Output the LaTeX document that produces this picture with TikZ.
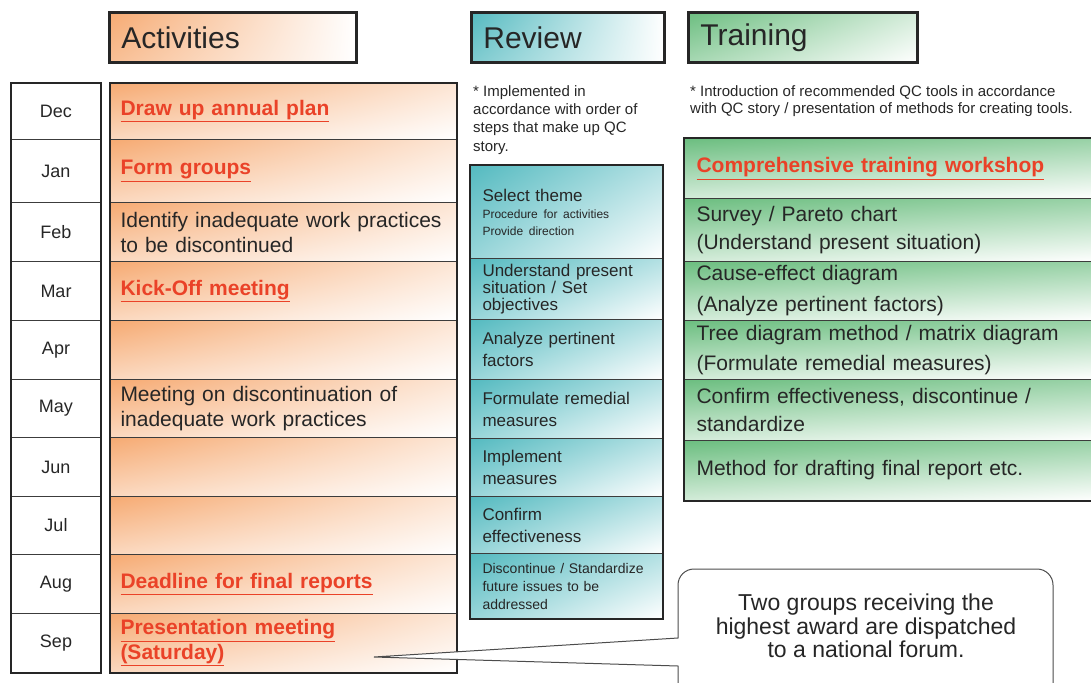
\documentclass[tikz,border=0pt]{standalone}
\usepackage{fontspec}
\setmainfont{Liberation Sans}
\usetikzlibrary{shadings}
\definecolor{actorange}{RGB}{246,170,114}
\definecolor{revteal}{RGB}{84,186,192}
\definecolor{trngreen}{RGB}{108,190,128}
\definecolor{hotred}{RGB}{234,66,40}
\definecolor{ink}{RGB}{38,38,38}
\definecolor{rulegray}{RGB}{60,60,60}
\newcommand{\hot}[1]{\textcolor{hotred}{\bfseries\underline{#1}}}

\begin{document}
\begin{tikzpicture}[x=1pt, y=-1pt, text=ink,
    frame/.style = {line width=2.8pt, draw=black!85},
    hdr/.style = {frame, anchor=north west, minimum height=50, inner xsep=12, inner ysep=0, align=left, font=\fontsize{30}{34}\selectfont},
    month/.style = {draw=rulegray, line width=1pt, anchor=north west, minimum width=89, inner sep=0, font=\fontsize{18}{22}\selectfont},
    actfill/.style = {upper left=actorange, upper right=actorange!30!white, lower left=actorange!45!white, lower right=white},
    revfill/.style = {upper left=revteal, upper right=revteal!45!white, lower left=revteal!60!white, lower right=white},
    trnfill/.style = {upper left=trngreen, upper right=trngreen!70!white, lower left=trngreen!30!white, lower right=white},
    actcell/.style = {draw=rulegray, line width=1pt, anchor=north west, text width=326, inner xsep=10, inner ysep=0, align=left, actfill, font=\fontsize{21}{25}\selectfont},
    revcell/.style = {draw=rulegray, line width=1pt, anchor=north west, text width=168, inner xsep=12, inner ysep=0, align=left, revfill, font=\fontsize{17}{22}\selectfont},
    trncell/.style = {draw=rulegray, line width=1pt, anchor=north west, text width=388, inner xsep=12, inner ysep=0, align=left, trnfill, font=\fontsize{21}{28}\selectfont},
    note/.style = {anchor=north west, inner sep=0, align=left, font=\fontsize{15}{18.4}\selectfont}]
  \useasboundingbox (0,0) rectangle (1091,682);
  \clip (0,0) rectangle (1091,682);

  % headers
  \node[hdr, text width=223, upper left=actorange, lower left=actorange!75!white, upper right=white, lower right=white] (hact) at (108,11) {Activities};
  \node[hdr, text width=169, upper left=revteal, lower left=revteal!75!white, upper right=white, lower right=white] (hrev) at (470,11) {Review};
  \node[hdr, text width=205, upper left=trngreen, lower left=trngreen!60!white, upper right=trngreen!30!white, lower right=white] (htrn) at (687,11) {Training};

  % months
  \node[month, minimum height=56] (mdec) at (11,83) {Dec};
  \node[month, minimum height=63] (mjan) at (11,139) {Jan};
  \node[month, minimum height=59] (mfeb) at (11,202) {Feb};
  \node[month, minimum height=59] (mmar) at (11,261) {Mar};
  \node[month, minimum height=59] (mapr) at (11,320) {Apr};
  \node[month, minimum height=58] (mmay) at (11,379) {May};
  \node[month, minimum height=59] (mjun) at (11,437) {Jun};
  \node[month, minimum height=58] (mjul) at (11,496) {Jul};
  \node[month, minimum height=59] (maug) at (11,554) {Aug};
  \node[month, minimum height=59] (msep) at (11,613) {Sep};
  \draw[frame] (mdec.north west) rectangle (msep.south east);

  % activities
  \node[actcell, minimum height=56] (adec) at (110,83) {\hot{Draw up annual plan}};
  \node[actcell, minimum height=63] (ajan) at (110,139) {\hot{Form groups}};
  \node[actcell, minimum height=59] (afeb) at (110,202) {Identify inadequate work practices\\to be discontinued};
  \node[actcell, minimum height=59] (amar) at (110,261) {\hot{Kick-Off meeting}};
  \node[actcell, minimum height=59] (aapr) at (110,320) {};
  \node[actcell, minimum height=58] (amay) at (110,379) {Meeting on discontinuation of\\inadequate work practices};
  \node[actcell, minimum height=59] (ajun) at (110,437) {};
  \node[actcell, minimum height=58] (ajul) at (110,496) {};
  \node[actcell, minimum height=59] (aaug) at (110,554) {\hot{Deadline for final reports}};
  \node[actcell, minimum height=59] (asep) at (110,613) {\hot{Presentation meeting}\\\hot{(Saturday)}};
  \draw[frame] (adec.north west) rectangle (asep.south east);

  % review
  \node[note] (revnote) at (473,85) {* Implemented in\\accordance with order of\\steps that make up QC\\story.};
  \node[revcell, minimum height=93, font=\fontsize{17}{17}\selectfont] (rtheme) at (470,165) {Select theme\\\fontsize{12}{17}\selectfont Procedure for activities\\Provide direction};
  \node[revcell, minimum height=61, font=\fontsize{17}{17}\selectfont] (rsit) at (470,258) {Understand present\\situation / Set\\objectives};
  \node[revcell, minimum height=60] (rfac) at (470,319) {Analyze pertinent\\factors};
  \node[revcell, minimum height=59] (rmeas) at (470,379) {Formulate remedial\\measures};
  \node[revcell, minimum height=58] (rimpl) at (470,438) {Implement\\measures};
  \node[revcell, minimum height=57] (rconf) at (470,496) {Confirm\\effectiveness};
  \node[revcell, minimum height=65, font=\fontsize{14}{18}\selectfont] (rdisc) at (470,553) {Discontinue / Standardize\\future issues to be\\addressed};
  \draw[frame] (rtheme.north west) rectangle (rdisc.south east);

  % training
  \node[note, font=\fontsize{15}{17.5}\selectfont] (trnnote) at (690,85) {* Introduction of recommended QC tools in accordance\\with QC story / presentation of methods for creating tools.};
  \node[trncell, minimum height=60] (tws) at (684,138) {\hot{Comprehensive training workshop}};
  \node[trncell, minimum height=63] (tsurv) at (684,198) {Survey / Pareto chart\\(Understand present situation)};
  \node[trncell, minimum height=59, font=\fontsize{21}{31}\selectfont] (tcause) at (684,261) {Cause-effect diagram\\(Analyze pertinent factors)};
  \node[trncell, minimum height=59, font=\fontsize{21}{30}\selectfont] (ttree) at (684,320) {Tree diagram method / matrix diagram\\(Formulate remedial measures)};
  \node[trncell, minimum height=61] (tconf) at (684,379) {Confirm effectiveness, discontinue /\\standardize};
  \node[trncell, minimum height=60] (tmeth) at (684,440) {Method for drafting final report etc.};
  \draw[frame] (tws.north east) -- (tws.north west) -- (tmeth.south west) -- (tmeth.south east);

  % callout
  \coordinate (tip) at (374,657);
  \draw[line width=1pt, draw=black!70, fill=white] (678,638) [rounded corners=16] -- (678,569) -- (1053,569) -- (1053,700) -- (678,700) [sharp corners] -- (678,666) -- (tip) -- cycle;
  \node[align=center, font=\fontsize{23}{23.5}\selectfont] (award) at (866,626) {Two groups receiving the\\highest award are dispatched\\to a national forum.};
\end{tikzpicture}
\end{document}
